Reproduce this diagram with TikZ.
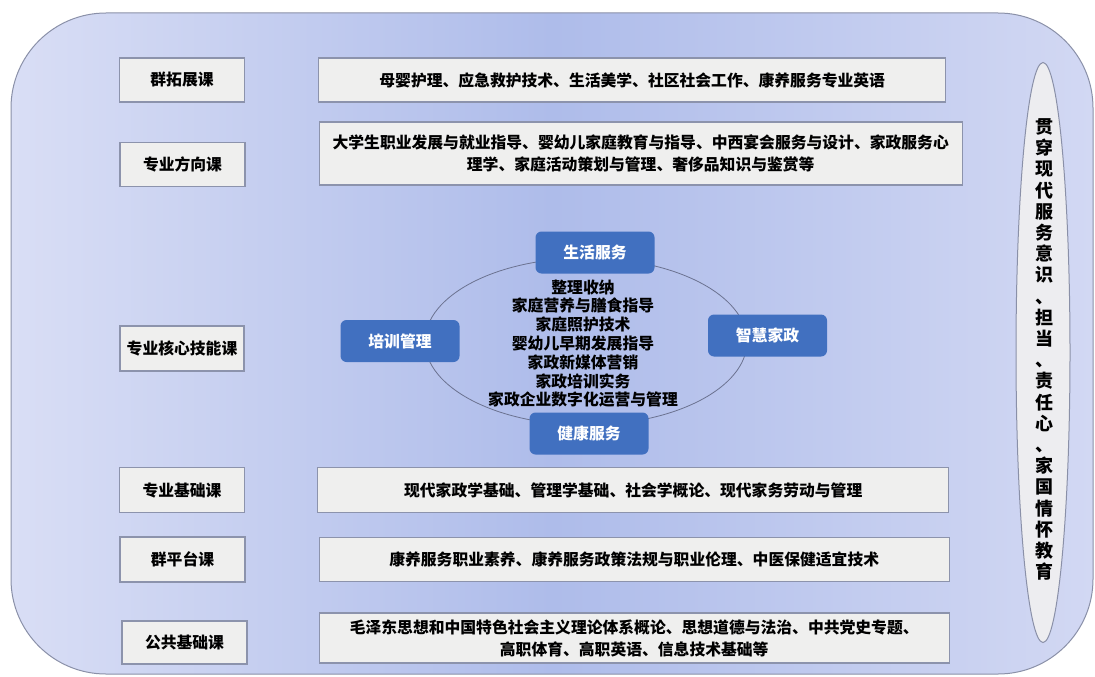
\documentclass[tikz,border=0pt]{standalone}
\usepackage{fontspec}
\newfontfamily\cjk{Noto Sans CJK SC}
\usetikzlibrary{positioning,shapes.geometric}

\definecolor{framecol}{HTML}{8A90A8}
\definecolor{frameleft}{HTML}{D9DEF5}
\definecolor{framemid}{HTML}{AEBCEA}
\definecolor{frameright}{HTML}{D2D8F3}
\definecolor{boxfill}{HTML}{EFEFEE}
\definecolor{boxline}{HTML}{8C93AC}
\definecolor{fieldblue}{HTML}{4170C0}
\definecolor{ringline}{HTML}{6B7290}
\definecolor{bandfill}{HTML}{EDEDF0}

\begin{document}
\begin{tikzpicture}[x=1pt,y=-1pt,font=\cjk\bfseries\fontsize{15.8}{22}\selectfont,
    kind/.style={draw=boxline,fill=boxfill,line width=1.2pt,minimum width=125pt,minimum height=44pt,inner sep=0pt},
    course/.style={kind,align=center},
    field/.style={fill=fieldblue,text=white,rounded corners=6pt,minimum width=119pt,minimum height=42pt,inner sep=0pt}]

    \useasboundingbox (0,0) rectangle (1095,677);

    \path[draw=framecol,line width=1pt,rounded corners=95pt,
        left color=frameleft,right color=frameright,middle color=framemid]
        (11,13) rectangle (1093,674);

    \node[kind]                   (lab1) at (182,80)      {群拓展课};
    \node[kind]                   (lab2) at (182.5,164.5) {专业方向课};
    \node[kind,minimum width=124pt,minimum height=45pt] (lab3) at (182,348.5) {专业核心技能课};
    \node[kind,minimum height=45pt] (lab4) at (182,490)   {专业基础课};
    \node[kind,minimum height=45pt] (lab5) at (182.5,559.5) {群平台课};
    \node[kind,minimum height=43pt] (lab6) at (184.5,642.5) {公共基础课};

    \node[course,minimum width=627pt,anchor=west,right=73pt of lab1] (c1)
        {母婴护理、应急救护技术、生活美学、社区社会工作、康养服务专业英语};
    \node[course,minimum width=643pt,minimum height=63pt,anchor=west,right=73pt of lab2,yshift=11pt] (c2)
        {大学生职业发展与就业指导、婴幼儿家庭教育与指导、中西宴会服务与设计、家政服务心\\理学、家庭活动策划与管理、奢侈品知识与鉴赏等};
    \node[course,minimum width=631pt,minimum height=45pt,anchor=west,right=72pt of lab4] (c4)
        {现代家政学基础、管理学基础、社会学概论、现代家务劳动与管理};
    \node[course,minimum width=630pt,anchor=west,right=73pt of lab5] (c5)
        {康养服务职业素养、康养服务政策法规与职业伦理、中医保健适宜技术};
    \node[course,minimum width=630pt,minimum height=50pt,anchor=west,right=71pt of lab6,yshift=4.5pt] (c6)
        {毛泽东思想和中国特色社会主义理论体系概论、思想道德与法治、中共党史专题、\\高职体育、高职英语、信息技术基础等};

    \node[ellipse,draw=ringline,line width=0.8pt,minimum width=322pt,minimum height=167pt] (ring) at (586,341.5) {};
    \node[align=center,font=\cjk\bfseries\fontsize{15.8}{18.8}\selectfont] (core) at (583,343.5)
        {整理收纳\\家庭营养与膳食指导\\家庭照护技术\\婴幼儿早期发展指导\\家政新媒体营销\\家政培训实务\\家政企业数字化运营与管理};

    \node[field] (life)   at (595,252.5) {生活服务};
    \node[field] (train)  at (400,341)   {培训管理};
    \node[field] (smart)  at (767.5,335.5) {智慧家政};
    \node[field] (health) at (589,433.5) {健康服务};

    \node[ellipse,draw=framecol,fill=bandfill,line width=1pt,minimum width=54pt,minimum height=580pt] (band) at (1043,352.5) {};
    \node[align=center,inner sep=0pt,font=\cjk\bfseries\fontsize{18}{21.2}\selectfont] (ethos) at (1044,349.5)
        {贯\\穿\\现\\代\\服\\务\\意\\识\\、\\担\\当\\、\\责\\任\\心\\、\\家\\国\\情\\怀\\教\\育};
\end{tikzpicture}
\end{document}
